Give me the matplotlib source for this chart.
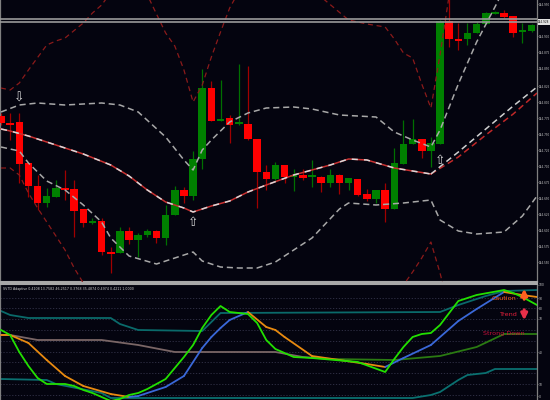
import numpy as np
import matplotlib
matplotlib.use("Agg")
import matplotlib.pyplot as plt

# ---------------- data (price panel, chart units: higher = higher price) ----------------
bar_open = [184, 177, 178, 137, 114, 97, 103, 112, 111, 91, 77, 79, 48, 47, 69, 60, 65, 69, 62, 85,
            110, 104, 141, 212, 179, 182, 176, 176, 161, 128, 121, 135, 123, 125, 123, 123, 117, 125, 117, 121,
            106, 101, 110, 91, 136, 156, 161, 149, 156, 279, 261, 261, 267, 276, 286, 287, 284, 268, 269]
bar_high = [187, 187, 187, 137, 125, 112, 120, 130, 120, 91, 82, 82, 53, 73, 73, 67, 71, 70, 95, 114,
            113, 149, 231, 219, 220, 185, 236, 234, 161, 135, 138, 135, 131, 131, 140, 124, 131, 126, 122, 121,
            111, 110, 117, 152, 180, 181, 161, 163, 280, 305, 277, 277, 278, 288, 289, 290, 284, 277, 276]
bar_low = [175, 160, 117, 103, 90, 93, 103, 100, 63, 73, 76, 45, 27, 47, 56, 43, 63, 57, 55, 85,
           97, 100, 131, 179, 179, 157, 175, 160, 92, 110, 120, 117, 109, 120, 113, 108, 113, 106, 110, 104,
           99, 97, 78, 91, 136, 156, 142, 133, 156, 253, 250, 255, 267, 276, 286, 282, 263, 257, 268]
bar_close = [177, 175, 136, 114, 97, 104, 112, 111, 89, 77, 78, 48, 47, 69, 60, 65, 69, 62, 85, 110,
             104, 141, 212, 179, 181, 175, 177, 161, 128, 121, 135, 123, 124, 122, 124, 117, 125, 117, 122, 105,
             101, 110, 91, 137, 156, 161, 149, 157, 279, 261, 260, 267, 276, 287, 288, 283, 267, 269, 275]

# Bollinger-type bands (bar index, value)
upper_x = [0, 2, 4, 7, 11, 13, 15, 18, 20, 21, 22, 23, 25, 27, 29, 32, 34, 37, 41, 43, 45, 47, 48, 50, 52, 54, 56, 58.6]
upper_y = [188, 195, 197, 195, 197, 195, 188, 163, 140, 130, 150, 160, 178, 187, 192, 193, 191, 185, 183, 168, 160, 153,
           170, 216, 258, 293, 329, 375]
mid_x = [0, 1, 3, 5, 7, 9, 12, 14, 16, 18, 20, 21, 23, 25, 27, 29, 32, 36, 38, 40, 43, 45, 47]
mid_y = [171, 169, 164, 158, 152, 146, 135, 124, 110, 98, 92, 88, 94, 99, 108, 115, 125, 135, 141, 140, 132, 129, 126]
mid_ext_x = [47, 50, 53, 56, 58.6]
mid_white_y = [126, 148, 171, 194, 213]
mid_red_y = [126, 143, 165, 186, 207]
lower_x = [0, 2, 3, 5, 7, 9, 11, 12, 14, 17, 19, 21, 22, 24, 26, 28, 30, 34, 37, 38, 41, 44, 47, 48, 50, 52, 55, 57, 58.6]
lower_y = [153, 149, 137, 119, 110, 95, 78, 62, 44, 36, 42, 48, 39, 33, 32, 32, 38, 62, 91, 97, 95, 97, 100, 80, 69, 66,
           68, 84, 104]
# envelopes
env_up_x = [0, 1, 2, 3, 5, 6, 7, 9, 10, 11, 13, 16, 18, 19, 20, 21, 22, 23, 24, 25, 27, 30, 33, 35, 38, 40, 42, 43, 44,
            45, 46, 47, 48, 49, 51]
env_up_y = [212, 210, 217, 230, 255, 259, 262, 277, 287, 295, 320, 305, 267, 254, 230, 198, 215, 243, 268, 292, 325, 335,
            325, 303, 280, 276, 273, 261, 247, 242, 216, 192, 245, 305, 340]
env_lo_x = [0, 1, 2, 3, 4, 5, 6, 7, 8, 9, 10, 12, 18, 21, 24, 40, 43, 44, 45, 46, 47, 48, 49]
env_lo_y = [132, 132, 125, 107, 92, 78, 64, 50, 32, 17, 2, -25, -30, 0, -30, -30, 0, 15, 28, 42, 58, 27, -10]

price_ticks = [296, 264, 248, 231, 214, 198, 182, 166, 150, 134, 118, 102, 86, 70, 54, 38]
price_labels = ["144.950", "144.900", "144.875", "144.850", "144.825", "144.800", "144.775", "144.750",
                "144.725", "144.700", "144.675", "144.650", "144.625", "144.600", "144.575", "144.550"]
current_level = 278
current_label = "144.928"
hline_levels = [281.5, 278.2]

arrow_down_bars = [2]
arrow_down_levels = [202]
arrow_up_bars = [21, 48]
arrow_up_levels = [78, 139]

# ---------------- oscillator panel ----------------
fast_x = [0, 1, 2, 3, 4, 5, 7, 8, 9, 10, 11, 12, 13, 14, 15, 16, 17, 18, 19, 20, 21, 22, 23, 24, 25, 27, 28, 29, 30, 31,
          32, 34, 39, 42, 43, 44, 45, 46, 47, 48, 49, 50, 52, 55, 56, 57, 58.6]
fast_y = [70, 65, 48, 34, 22, 16, 16, 14, 10, 7, 3, -1, 1, 5, 7, 11, 16, 21, 32, 43, 55, 72, 85, 94, 88, 86, 77, 60, 51,
          47, 43, 42, 38, 28, 41, 53, 63, 66, 67, 75, 87, 99, 105, 110, 107, 103, 95]
sig_x = [0, 1, 3, 5, 7, 9, 12, 14, 15, 18, 20, 22, 23, 24, 25, 27, 29, 30, 31, 34, 37, 40, 42, 44, 47, 50, 52, 55, 57, 58.6]
sig_y = [65, 65, 57, 40, 24, 14, 6, 3, 4, 13, 24, 52, 63, 72, 80, 88, 73, 70, 63, 44, 40, 36, 33, 42, 55, 79, 91, 108,
         105, 103]
teal_hi_x = [0, 1, 3, 12, 13, 15, 22, 24, 48, 50, 51, 53, 55, 58.6]
teal_hi_y = [89, 85, 82, 82, 76, 70, 69, 87, 88, 95, 98, 104, 109, 110]
taupe_x = [0, 1, 4, 11, 15, 19, 30, 33, 36]
taupe_y = [65, 65, 60, 60, 55, 48, 48, 43, 41]
dkgreen_x = [36, 43, 48, 52, 55, 58.6]
dkgreen_y = [41, 40, 44, 53, 66, 66]
teal_lo_x = [0, 5, 6, 11, 12, 45, 47, 48, 49, 50, 51, 53, 54, 58.6]
teal_lo_y = [21, 20, 16, 7, 2, 2, 5, 8, 14, 20, 25, 27, 31, 31]
osc_grid = [102, 92, 81, 70, 59, 48, 38, 27, 16, 5]
osc_ticks = [115, 102, 92, 81, 48, 16, 4]
osc_labels = ["100", "90", "80", "70", "40", "10", "0"]
osc_title = "SVTD Adaptive 0.4108 13.7582 46.2517 0.3768 35.4874 0.4974 0.4211 1.0000"
signal_texts = ["Caution", "Trend", "Strong Down"]
signal_pos = [(53.6, 102), (54.5, 85), (52.7, 67)]
signal_colors = ["#ff5a1e", "#e8203c", "#c8103a"]

# ---------------- drawing ----------------
BG = "#04040f"
fig = plt.figure(figsize=(5.5, 4), dpi=100, facecolor=BG)
ax = fig.add_axes([0, 118 / 400, 537 / 550, 282 / 400], facecolor=BG)
ax2 = fig.add_axes([0, 0, 537 / 550, 116 / 400], facecolor=BG)

n = len(bar_open)
xs = np.arange(n)
o = np.array(bar_open, float)
c = np.array(bar_close, float)
h = np.array(bar_high, float)
l = np.array(bar_low, float)
bull = c > o
body_h = c - o
body_h = np.where(np.abs(body_h) < 1.6, np.where(bull, 1.6, -1.6), body_h)
body_col = np.where(bull, "#008000", "#ff0000")
wick_col = np.where(bull, "#007000", "#a00000")

ax.vlines(xs, l, h, colors=wick_col, lw=0.9, zorder=2)
ax.bar(xs, body_h, bottom=o, width=0.82, color=body_col, linewidth=0, zorder=3)

# envelopes
env_kw = dict(color="#8b1a1a", lw=0.9, dashes=(4, 3), zorder=4)
ax.plot(env_up_x, env_up_y, **env_kw)
ax.plot(env_lo_x, env_lo_y, **env_kw)
# bands
band_kw = dict(color="#a8a8a8", lw=1.1, dashes=(4, 2.5), zorder=5)
ax.plot(upper_x, upper_y, **band_kw)
ax.plot(lower_x, lower_y, **band_kw)
ax.plot(mid_x, mid_y, color="#c83030", lw=1.1, zorder=5)
ax.plot(mid_x, mid_y, color="#d8d8d8", lw=1.1, dashes=(4, 4), zorder=6)
ax.plot(mid_ext_x, mid_red_y, color="#c02828", lw=1.1, dashes=(4, 2.5), zorder=5)
ax.plot(mid_ext_x, mid_white_y, color="#d0d0d0", lw=1.1, dashes=(4, 2.5), zorder=6)

for lv in hline_levels:
    ax.axhline(lv, color="#9a9a9a", lw=1.2, zorder=7)

for bx, lv in zip(arrow_down_bars, arrow_down_levels):
    ax.text(bx, lv, "\u21e9", ha="center", va="center", fontsize=9, color="#d8d8d8", zorder=8)
for bx, lv in zip(arrow_up_bars, arrow_up_levels):
    ax.text(bx, lv, "\u21e7", ha="center", va="center", fontsize=9, color="#d8d8d8", zorder=8)

ax.set_xlim(-0.11, 58.6)
ax.set_ylim(18, 300)
ax.set_xticks([])
ax.yaxis.tick_right()
ax.set_yticks(price_ticks)
ax.set_yticklabels(price_labels)
ax.tick_params(axis="y", colors="#909090", labelcolor="#c8c8c8", labelsize=2.0, length=1.0, width=0.5, pad=0.4)
for s in ["left", "right"]:
    ax.spines[s].set_color("#808080")
    ax.spines[s].set_linewidth(0.9)
ax.spines["top"].set_visible(False)
ax.spines["bottom"].set_color("#a8a8a8")
ax.spines["bottom"].set_linewidth(1.5)

trans = ax.get_yaxis_transform()
ax.text(1.002, current_level, current_label, transform=trans, fontsize=2.0, color="#101010", va="center", ha="left",
        bbox=dict(boxstyle="square,pad=0.2", fc="#e0e0e0", ec="none"), clip_on=False, zorder=9)

# ---- oscillator ----
for g in osc_grid:
    ax2.axhline(g, color="#34344a", lw=0.6, ls=(0, (1.5, 2)), zorder=1)

ax2.plot(teal_lo_x, teal_lo_y, color="#0a7070", lw=1.3, zorder=2)
ax2.plot(teal_hi_x, teal_hi_y, color="#0a6a6a", lw=1.3, zorder=2)
ax2.plot(taupe_x, taupe_y, color="#7a6666", lw=1.3, zorder=2)
ax2.plot(dkgreen_x, dkgreen_y, color="#2a7a12", lw=1.3, zorder=2)

sx = np.array(sig_x, float)
sy = np.array(sig_y, float)
for i in range(len(sx) - 1):
    col = "#3a68d8" if sy[i + 1] > sy[i] else "#e88a10"
    ax2.plot(sx[i:i + 2], sy[i:i + 2], color=col, lw=1.3, zorder=3, solid_capstyle="round")
ax2.plot(fast_x, fast_y, color="#22e000", lw=1.3, zorder=4)

for t, (px, py), col in zip(signal_texts, signal_pos, signal_colors):
    ax2.text(px, py, t, color=col, fontsize=4.6, ha="left", va="center", zorder=6)
ax2.annotate("", xy=(57.2, 114), xytext=(57.2, 98),
             arrowprops=dict(arrowstyle="-|>", color="#ff6020", lw=2.2, mutation_scale=9), zorder=6)
ax2.annotate("", xy=(57.2, 77), xytext=(57.2, 93),
             arrowprops=dict(arrowstyle="-|>", color="#e8304a", lw=2.2, mutation_scale=9), zorder=6)

ax2.text(0.006, 0.975, osc_title, transform=ax2.transAxes, fontsize=2.3, color="#d0d0d0", va="top", ha="left")

ax2.set_xlim(-0.11, 58.6)
ax2.set_ylim(0, 116)
ax2.set_xticks([])
ax2.yaxis.tick_right()
ax2.set_yticks(osc_ticks)
ax2.set_yticklabels(osc_labels)
ax2.tick_params(axis="y", colors="#909090", labelcolor="#c8c8c8", labelsize=2.2, length=1.0, width=0.5, pad=0.4)
for s in ["left", "right"]:
    ax2.spines[s].set_color("#808080")
    ax2.spines[s].set_linewidth(0.9)
ax2.spines["bottom"].set_visible(False)
ax2.spines["top"].set_color("#a8a8a8")
ax2.spines["top"].set_linewidth(1.5)

fig.savefig("out.png", dpi=100, facecolor=BG)
